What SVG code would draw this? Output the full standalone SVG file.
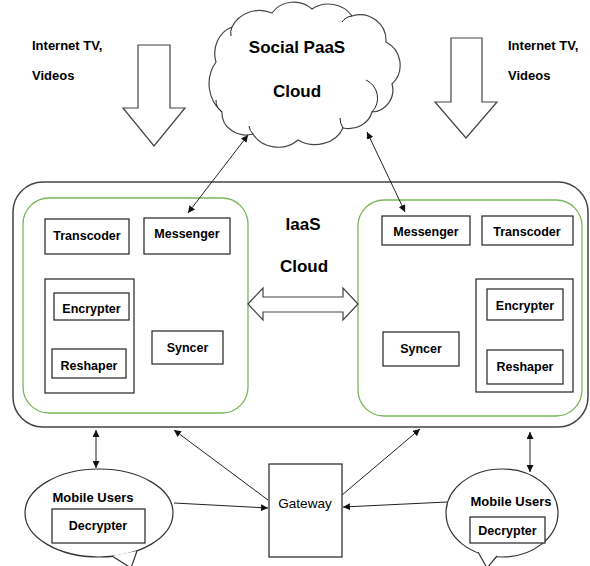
<svg xmlns="http://www.w3.org/2000/svg" width="590" height="566" viewBox="0 0 590 566">
<defs>
<style>
text{font-family:"Liberation Sans",Arial,sans-serif;fill:#000;}
.b{font-weight:bold;}
.lbl{font-size:12.5px;font-weight:bold;text-anchor:middle;}
.box{fill:#fff;stroke:#222;stroke-width:1.2;}
.green{fill:#fff;stroke:#7ab55c;stroke-width:1.3;}
.con{fill:none;stroke:#222;stroke-width:1;}
.hollow{fill:#fff;stroke:#444;stroke-width:1.2;}
</style>
<marker id="ah" viewBox="0 0 10 10" refX="10" refY="5" markerWidth="7" markerHeight="7" orient="auto-start-reverse" markerUnits="userSpaceOnUse">
<path d="M0,0 L10,5 L0,10 z" fill="#111"/>
</marker>
</defs>

<g id="text-left-tv">
<text class="b" x="32" y="50" font-size="13">Internet TV,</text>
<text class="b" x="32" y="80" font-size="13">Videos</text>
</g>
<g id="text-right-tv">
<text class="b" x="508" y="50" font-size="13">Internet TV,</text>
<text class="b" x="508" y="80" font-size="13">Videos</text>
</g>

<g id="arrow-down-left">
<polygon class="hollow" points="138,45 170,45 170,108 185,108 154,146 123,108 138,108"/>
</g>
<g id="arrow-down-right">
<polygon class="hollow" points="451,38 482,38 482,102 497,102 466,138 435,102 451,102"/>
</g>

<g id="social-paas-cloud">
<path class="hollow" d="M216,62 A26,28 0 0 1 232,27 A30,28 0 0 1 272,13 A26,24 0 0 1 312,9 A28,26 0 0 1 352,16 A26,26 0 0 1 386,42 A26,26 0 0 1 392,84 A22,22 0 0 1 372,112 A24,22 0 0 1 343,128 A30,26 0 0 1 298,140 A28,24 0 0 1 253,134 A24,22 0 0 1 222,112 A34,36 0 0 1 216,62 Z"/>
<path class="con" stroke="#444" d="M366,80 A20,20 0 0 1 372,112 M343,128 A18,18 0 0 1 340,118 M253,134 A14,14 0 0 1 249,126 M222,112 A14,14 0 0 1 216,100 M232,27 A14,14 0 0 0 231,36 M352,16 A14,14 0 0 0 342,22"/>
<text class="b" x="297" y="53" font-size="17" text-anchor="middle">Social PaaS</text>
<text class="b" x="297" y="97" font-size="17" text-anchor="middle">Cloud</text>
</g>

<g id="iaas-cloud">
<rect x="13" y="182" width="575" height="245" rx="30" fill="#fff" stroke="#444" stroke-width="1.5"/>
<text class="b" x="303" y="230" font-size="17" text-anchor="middle">IaaS</text>
<text class="b" x="304" y="272" font-size="17" text-anchor="middle">Cloud</text>
</g>

<g id="left-cluster">
<rect class="green" x="23" y="198" width="225" height="215" rx="26"/>
<rect class="box" x="45" y="219" width="84" height="35"/>
<text class="lbl" x="87" y="240">Transcoder</text>
<rect class="box" x="144" y="218" width="86" height="36"/>
<text class="lbl" x="187" y="238">Messenger</text>
<rect class="box" x="45" y="279" width="89" height="114"/>
<rect class="box" x="54" y="293" width="75" height="27"/>
<text class="lbl" x="91.5" y="313">Encrypter</text>
<rect class="box" x="52" y="349" width="74" height="29"/>
<text class="lbl" x="89" y="370">Reshaper</text>
<rect class="box" x="152" y="331" width="71" height="33"/>
<text class="lbl" x="187.5" y="352">Syncer</text>
</g>

<g id="right-cluster">
<rect class="green" x="358" y="200" width="224" height="216" rx="26"/>
<rect class="box" x="382" y="216" width="88" height="29"/>
<text class="lbl" x="426" y="236">Messenger</text>
<rect class="box" x="482" y="216" width="91" height="29"/>
<text class="lbl" x="527" y="236">Transcoder</text>
<rect class="box" x="476" y="279" width="97" height="113"/>
<rect class="box" x="487" y="289" width="76" height="31"/>
<text class="lbl" x="525" y="310">Encrypter</text>
<rect class="box" x="487" y="350" width="76" height="34"/>
<text class="lbl" x="525" y="371">Reshaper</text>
<rect class="box" x="383" y="332" width="76" height="34"/>
<text class="lbl" x="421" y="353">Syncer</text>
</g>

<g id="sync-arrow">
<polygon class="hollow" points="248,304 263,288 263,297 343,297 343,288 358,304 343,320 343,312 263,312 263,320"/>
</g>

<g id="gateway">
<rect class="box" x="269" y="464" width="73" height="93"/>
<text x="305" y="508" font-size="13.5" text-anchor="middle">Gateway</text>
</g>

<g id="mobile-left">
<ellipse cx="99" cy="513" rx="74" ry="44" fill="#fff" stroke="#333" stroke-width="1.2"/>
<path d="M112,556 L131,568 L137,551" fill="#fff" stroke="#333" stroke-width="1.2"/>
<text class="b" x="93" y="502" font-size="13" text-anchor="middle">Mobile Users</text>
<rect class="box" x="52" y="509" width="93" height="34"/>
<text class="lbl" x="98" y="530">Decrypter</text>
</g>

<g id="mobile-right">
<ellipse cx="502" cy="513" rx="56" ry="44" fill="#fff" stroke="#333" stroke-width="1.2"/>
<path d="M478,552 L487,568 L497,556" fill="#fff" stroke="#333" stroke-width="1.2"/>
<text class="b" x="511" y="506" font-size="13" text-anchor="middle">Mobile Users</text>
<rect class="box" x="470" y="517" width="75" height="26"/>
<text class="lbl" x="507.5" y="535">Decrypter</text>
</g>

<g id="connectors">
<line class="con" x1="248" y1="135" x2="188" y2="213" marker-start="url(#ah)" marker-end="url(#ah)"/>
<line class="con" x1="367" y1="132" x2="405" y2="212" marker-start="url(#ah)" marker-end="url(#ah)"/>
<line class="con" x1="96" y1="430" x2="96" y2="468" marker-start="url(#ah)" marker-end="url(#ah)"/>
<line class="con" x1="530" y1="432" x2="530" y2="472" marker-start="url(#ah)" marker-end="url(#ah)"/>
<line class="con" x1="174" y1="503" x2="268" y2="508" marker-end="url(#ah)"/>
<line class="con" x1="447" y1="502" x2="343" y2="507" marker-end="url(#ah)"/>
<line class="con" x1="268" y1="500" x2="174" y2="430" marker-end="url(#ah)"/>
<line class="con" x1="342" y1="495" x2="420" y2="429" marker-end="url(#ah)"/>
</g>
</svg>
